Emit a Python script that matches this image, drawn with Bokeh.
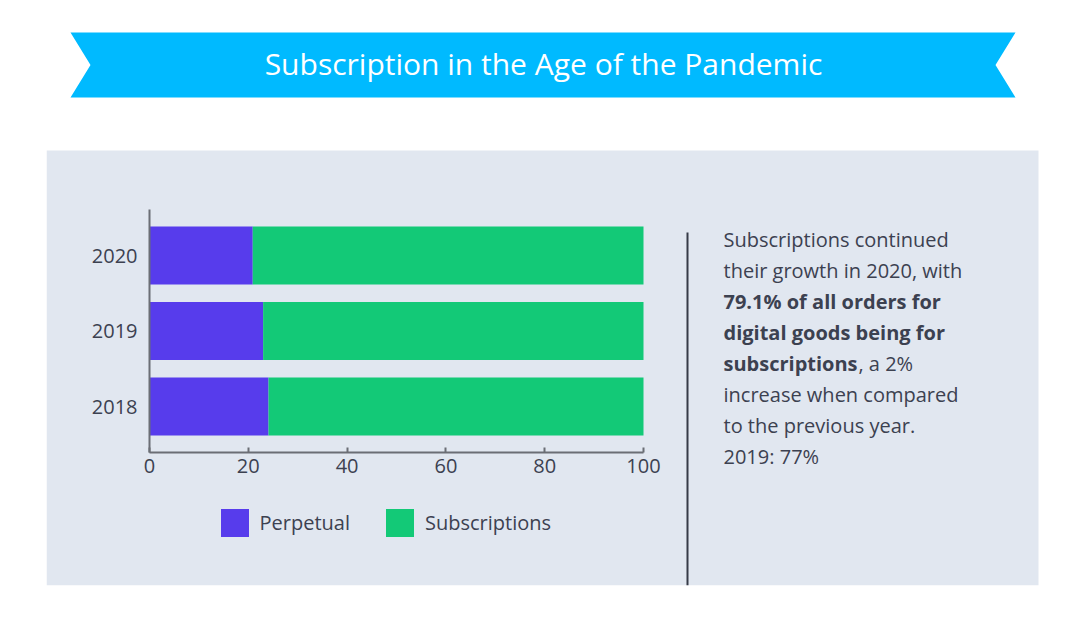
from bokeh.plotting import figure
from bokeh.models import (Range1d, Legend, LegendItem, ColumnDataSource, FixedTicker)
from bokeh.core.properties import value
from bokeh.embed import file_html
from bokeh.resources import INLINE

# ---- data ----
years = ["2018", "2019", "2020"]
perpetual = [24.1, 23.0, 20.9]
subscriptions = [75.9, 77.0, 79.1]
series = ["Perpetual", "Subscriptions"]
x_ticks = [0, 20, 40, 60, 80, 100]
title_text = "Subscription in the Age of the Pandemic"
para_lines = ["Subscriptions continued", "their growth in 2020, with",
              "79.1% of all orders for", "digital goods being for", "subscriptions",
              "increase when compared", "to the previous year.", "2019: 77%"]
para_styles = ["normal", "normal", "bold", "bold", "bold", "normal", "normal", "normal"]
tail_text = ", a 2%"

FONT = "Open Sans"
FS = "20px"
TXT = "#3c4150"
PANEL = "#e1e7f0"
AXIS = "#6b6e75"
COLORS = ["#573cec", "#13c977"]

# ---- layout geometry (page pixels) ----
W, H = 1090, 628
FL, FR, FT, FB = 46, 1090, 0, 585           # plot frame on the page
AX_L, AX_R = 149, 643                        # x = 0 .. 100
AX_T, AX_B = 209, 452                        # y-axis extent
ROW0_Y, ROW_STEP = 406, 75.5                 # centre of first bar, px per category

pxu = (AX_R - AX_L) / 100.0
x_start, x_end = (FL - AX_L) / pxu, (FR - AX_L) / pxu
y_start, y_end = -(FB - ROW0_Y) / ROW_STEP, (ROW0_Y - FT) / ROW_STEP
y_lo, y_hi = -(AX_B - ROW0_Y) / ROW_STEP, (ROW0_Y - AX_T) / ROW_STEP

pos = list(range(len(years)))
source = ColumnDataSource(dict(pos=pos, year=years, Perpetual=perpetual, Subscriptions=subscriptions))

p = figure(width=W, height=H, output_backend="svg", toolbar_location=None,
           x_range=Range1d(x_start, x_end), y_range=Range1d(y_start, y_end),
           min_border_left=FL, min_border_right=W - FR, min_border_top=FT, min_border_bottom=H - FB,
           background_fill_color="white", border_fill_color="white")
p.outline_line_color = None
p.grid.visible = False
p.extra_x_ranges = {"px": Range1d(FL, FR)}
p.extra_y_ranges = {"px": Range1d(FB, FT)}
PX = dict(x_range_name="px", y_range_name="px")

# panel + banner
p.quad(left=46, right=1038, top=150, bottom=585, fill_color=PANEL, line_color=None, **PX)
p.patch([70, 1015, 995, 1015, 70, 90], [32, 32, 64.5, 97, 97, 64.5],
        fill_color="#00baff", line_color=None, **PX)
p.text(x=[543], y=[63], text=[title_text], text_font=value(FONT), text_font_size="30px",
       text_color="white", text_align="center", text_baseline="middle", **PX)

# bars
rs = p.hbar_stack(series, y="pos", height=0.768, color=COLORS, source=source, line_color=None)

# axes
p.xaxis.ticker = FixedTicker(ticks=x_ticks)
p.xaxis.fixed_location = y_lo
p.xaxis.bounds = (0, 100)
p.yaxis.ticker = FixedTicker(ticks=[])
p.yaxis.fixed_location = 0
p.yaxis.bounds = (y_lo, y_hi)
for ax in (p.xaxis[0], p.yaxis[0]):
    ax.axis_line_color = AXIS
    ax.axis_line_width = 2
    ax.major_tick_line_color = AXIS
    ax.major_tick_line_width = 2
    ax.minor_tick_line_color = None
    ax.major_label_text_font = FONT
    ax.major_label_text_font_size = FS
    ax.major_label_text_color = TXT
p.xaxis.major_tick_in = 5
p.xaxis.major_tick_out = 0
p.xaxis.major_label_standoff = 6
p.yaxis.major_tick_in = 0
p.yaxis.major_tick_out = 0
p.yaxis.major_label_standoff = 0
# category labels next to the y axis
p.text(x=0, y="pos", text="year", source=source, x_offset=-12, text_align="right",
       text_baseline="middle", text_font=value(FONT), text_font_size=FS, text_color=TXT)

# divider + paragraph
p.segment(x0=[687], y0=[232], x1=[687], y1=[585], line_color="#363b47", line_width=2, **PX)
y0, dy = 238.5, 31.14
ys = [y0 + i * dy for i in range(len(para_lines))]
for style in ("normal", "bold"):
    idx = [i for i, s in enumerate(para_styles) if s == style]
    p.text(x=[723] * len(idx), y=[ys[i] for i in idx], text=[para_lines[i] for i in idx],
           text_font=value(FONT), text_font_size=FS, text_font_style=style,
           text_color=TXT, text_align="left", text_baseline="middle", **PX)
p.text(x=[858], y=[ys[4]], text=[tail_text], text_font=value(FONT), text_font_size=FS,
       text_color=TXT, text_align="left", text_baseline="middle", **PX)

# legend
legend = Legend(items=[LegendItem(label=s, renderers=[r]) for s, r in zip(series, rs)],
                orientation="horizontal", location=(216.5 - FL, FB - 539.5), padding=0, margin=0,
                glyph_width=35, glyph_height=35, label_standoff=8, spacing=32,
                label_text_font=FONT, label_text_font_size=FS, label_text_color=TXT,
                border_line_color=None, background_fill_alpha=0)
p.add_layout(legend)

open("out.html", "w").write(file_html(p, INLINE))
